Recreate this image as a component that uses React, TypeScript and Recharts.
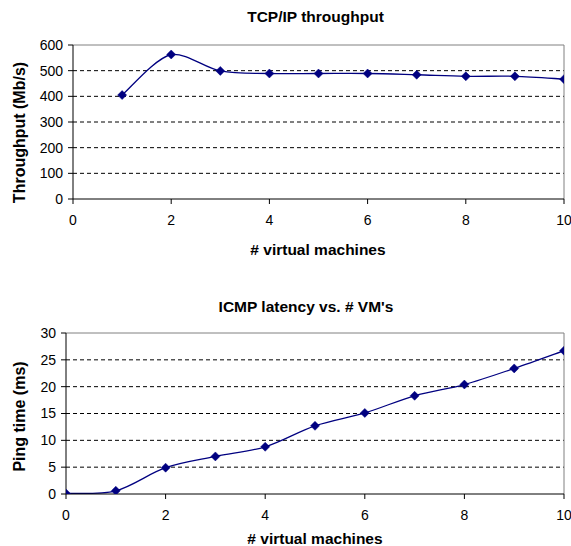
import React from "react";
import { LineChart, Line, XAxis, YAxis, ReferenceLine } from "recharts";

// ---- Data ----
const tcpMachines = [1, 2, 3, 4, 5, 6, 7, 8, 9, 10];
const tcpThroughput = [405, 563, 499, 489, 489, 489, 484, 478, 478, 467];
const tcpXTicks = [0, 2, 4, 6, 8, 10];
const tcpYTicks = [0, 100, 200, 300, 400, 500, 600];

const pingMachines = [0, 1, 2, 3, 4, 5, 6, 7, 8, 9, 10];
const pingTime = [0.1, 0.6, 4.9, 7.0, 8.8, 12.7, 15.1, 18.3, 20.4, 23.4, 26.7];
const pingXTicks = [0, 2, 4, 6, 8, 10];
const pingYTicks = [0, 5, 10, 15, 20, 25, 30];

const tcpData = tcpMachines.map((x, i) => ({ x, y: tcpThroughput[i] }));
const pingData = pingMachines.map((x, i) => ({ x, y: pingTime[i] }));

const FONT = '"Liberation Sans", Arial, sans-serif';
const NAVY = "#000080";

// Catmull-Rom style smoothing (like Excel's smoothed line), control points kept in segment range
function smoothCurve(context: any) {
  let pts: [number, number][] = [];
  const clamp = (v: number, a: number, b: number) => Math.max(Math.min(a, b) - 1.5, Math.min(Math.max(a, b) + 1.5, v));
  return {
    areaStart() {},
    areaEnd() {},
    lineStart() {
      pts = [];
    },
    point(x: number, y: number) {
      pts.push([+x, +y]);
    },
    lineEnd() {
      if (pts.length === 0) return;
      context.moveTo(pts[0][0], pts[0][1]);
      if (pts.length === 1) return;
      for (let i = 0; i < pts.length - 1; i++) {
        const p0 = pts[i - 1] || pts[i];
        const p1 = pts[i];
        const p2 = pts[i + 1];
        const p3 = pts[i + 2] || pts[i + 1];
        const c1x = p1[0] + (p2[0] - p0[0]) / 6;
        const c1y = clamp(p1[1] + (p2[1] - p0[1]) / 6, p1[1], p2[1]);
        const c2x = p2[0] - (p3[0] - p1[0]) / 6;
        const c2y = clamp(p2[1] - (p3[1] - p1[1]) / 6, p1[1], p2[1]);
        context.bezierCurveTo(c1x, c1y, c2x, c2y, p2[0], p2[1]);
      }
    },
  };
}

const Diamond = (props: any) => {
  const { cx, cy } = props;
  if (cx == null || cy == null) return null;
  const r = 4.5;
  return (
    <polygon
      points={`${cx},${cy - r} ${cx + r},${cy} ${cx},${cy + r} ${cx - r},${cy}`}
      fill={NAVY}
      stroke={NAVY}
      strokeWidth={0.5}
    />
  );
};

const tickStyle = { fill: "#000", fontSize: 14, fontFamily: FONT };

type PanelProps = {
  data: { x: number; y: number }[];
  xTicks: number[];
  yTicks: number[];
  title: string;
  yLabel: string;
  xLabel: string;
  margin: { top: number; right: number; bottom: number; left: number };
  yAxisWidth: number;
  titleY: number;
  titleX: number;
  xLabelX: number;
  xLabelY: number;
  yLabelX: number;
  yLabelY: number;
};

const Panel = (p: PanelProps) => {
  const yMax = p.yTicks[p.yTicks.length - 1];
  const xMax = p.xTicks[p.xTicks.length - 1];
  const grid = p.yTicks.slice(1, -1);
  return (
    <LineChart width={571} height={273} data={p.data} margin={p.margin} style={{ fontFamily: FONT }}>
      <XAxis
        type="number"
        dataKey="x"
        domain={[p.xTicks[0], xMax]}
        ticks={p.xTicks}
        interval={0}
        tick={tickStyle}
        tickSize={5}
        tickMargin={11}
        stroke="#000"
        height={30}
        allowDataOverflow
      />
      <YAxis
        type="number"
        domain={[p.yTicks[0], yMax]}
        ticks={p.yTicks}
        interval={0}
        tick={tickStyle}
        tickSize={5}
        tickMargin={5}
        stroke="#000"
        width={p.yAxisWidth}
        allowDataOverflow
      />
      {grid.map((v) => (
        <ReferenceLine key={v} y={v} stroke="#000" strokeDasharray="4 3" strokeWidth={1} />
      ))}
      <ReferenceLine y={yMax} stroke="#808080" strokeWidth={1} />
      <ReferenceLine x={xMax} stroke="#808080" strokeWidth={1} />
      <Line
        dataKey="y"
        type={smoothCurve as any}
        stroke={NAVY}
        strokeWidth={1.3}
        dot={<Diamond />}
        activeDot={false}
        isAnimationActive={false}
      />
      <text x={p.titleX} y={p.titleY} textAnchor="middle" fontWeight="bold" fontSize={15.5} fontFamily={FONT} fill="#000">
        {p.title}
      </text>
      <text x={p.xLabelX} y={p.xLabelY} textAnchor="middle" fontWeight="bold" fontSize={15.5} fontFamily={FONT} fill="#000">
        {p.xLabel}
      </text>
      <text
        x={p.yLabelX}
        y={p.yLabelY}
        textAnchor="middle"
        fontWeight="bold"
        fontSize={16}
        fontFamily={FONT}
        fill="#000"
        transform={`rotate(-90 ${p.yLabelX} ${p.yLabelY})`}
      >
        {p.yLabel}
      </text>
    </LineChart>
  );
};

export default function App() {
  return (
    <div style={{ position: "absolute", left: 0, top: 0, width: 571, height: 546, background: "#fff" }}>
      <Panel
        data={tcpData}
        xTicks={tcpXTicks}
        yTicks={tcpYTicks}
        title="TCP/IP throughput"
        xLabel="# virtual machines"
        yLabel="Throughput (Mb/s)"
        margin={{ top: 45, right: 7, bottom: 44, left: 13 }}
        yAxisWidth={60}
        titleX={315.5}
        titleY={22}
        xLabelX={318}
        xLabelY={255}
        yLabelX={25}
        yLabelY={132.5}
      />
      <Panel
        data={pingData}
        xTicks={pingXTicks}
        yTicks={pingYTicks}
        title="ICMP latency vs. # VM's"
        xLabel="# virtual machines"
        yLabel="Ping time (ms)"
        margin={{ top: 60, right: 7, bottom: 22, left: 13 }}
        yAxisWidth={53}
        titleX={306}
        titleY={38.5}
        xLabelX={315}
        xLabelY={271}
        yLabelX={25}
        yLabelY={143.5}
      />
    </div>
  );
}
